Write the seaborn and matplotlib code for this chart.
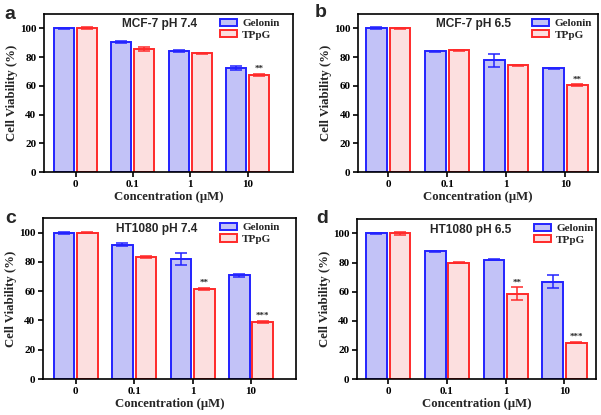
import numpy as np
import pandas as pd
import matplotlib
matplotlib.use("Agg")
import matplotlib.pyplot as plt
import seaborn as sns

# ---------------- data ----------------
conc = ["0", "0.1", "1", "10"]
groups = ["Gelonin", "TPpG"]

a_title = "MCF-7 pH 7.4"
a_gel = [100.0, 90.5, 84.4, 72.4]
a_gel_err = [0.5, 0.5, 0.7, 1.2]
a_tpg = [100.0, 85.6, 82.7, 67.5]
a_tpg_err = [0.8, 1.2, 0.3, 0.6]
a_sig = ["", "", "", "**"]

b_title = "MCF-7 pH 6.5"
b_gel = [100.0, 84.0, 77.6, 72.2]
b_gel_err = [0.6, 0.4, 4.2, 0.4]
b_tpg = [100.0, 84.6, 74.2, 60.3]
b_tpg_err = [0.4, 0.3, 0.5, 0.6]
b_sig = ["", "", "", "**"]

c_title = "HT1080 pH 7.4"
c_gel = [100.0, 91.7, 82.0, 70.8]
c_gel_err = [0.6, 1.0, 4.2, 0.8]
c_tpg = [100.0, 83.3, 61.6, 39.1]
c_tpg_err = [0.5, 0.5, 0.8, 0.6]
c_sig = ["", "", "**", "***"]

d_title = "HT1080 pH 6.5"
d_gel = [100.0, 87.8, 81.8, 66.8]
d_gel_err = [0.5, 0.4, 0.4, 4.4]
d_tpg = [100.0, 79.9, 58.6, 25.0]
d_tpg_err = [0.8, 0.4, 4.4, 0.6]
d_sig = ["", "", "**", "***"]

# ---------------- style ----------------
sns.set_style("ticks")
plt.rcParams["font.family"] = ["Liberation Serif", "DejaVu Serif"]
plt.rcParams["font.weight"] = "bold"

fill_b = "#c2c2f7"
edge_b = "#2323ff"
fill_r = "#fcdfdf"
edge_r = "#ff2a2a"

fig = plt.figure(figsize=(6.01, 4.15), dpi=100)

panels = [
    # letter, rect, xlim, title, gel, gel_err, tpg, tpg_err, sig, legend_x, title_x, title_y, letter_xy
    ("a", [0.0732, 0.5855, 0.414, 0.381], (-0.55, 3.79), a_title, a_gel, a_gel_err, a_tpg, a_tpg_err, a_sig,
     0.707, 0.466, 0.918, (0.008, 0.955)),
    ("b", [0.5957, 0.5855, 0.399, 0.381], (-0.51, 3.55), b_title, b_gel, b_gel_err, b_tpg, b_tpg_err, b_sig,
     0.726, 0.482, 0.918, (0.524, 0.958)),
    ("c", [0.0715, 0.0867, 0.421, 0.388], (-0.56, 3.77), c_title, c_gel, c_gel_err, c_tpg, c_tpg_err, c_sig,
     0.700, 0.45, 0.911, (0.008, 0.462)),
    ("d", [0.594, 0.0867, 0.398, 0.386], (-0.53, 3.54), d_title, d_gel, d_gel_err, d_tpg, d_tpg_err, d_sig,
     0.74, 0.477, 0.911, (0.527, 0.462)),
]

for (letter, rect, xlim, title, gel, gel_err, tpg, tpg_err, sig,
     leg_x, title_x, title_y, letter_xy) in panels:
    ax = fig.add_axes(rect)
    df = pd.DataFrame({
        "Concentration": conc * 2,
        "Group": [groups[0]] * len(conc) + [groups[1]] * len(conc),
        "Viability": list(gel) + list(tpg),
    })
    sns.barplot(data=df, x="Concentration", y="Viability", hue="Group",
                order=conc, hue_order=groups, palette=[fill_b, fill_r],
                width=0.8, gap=0.12, errorbar=None, saturation=1,
                linewidth=1.4, legend=False, ax=ax)
    for cont, ec, err, s_list in zip(ax.containers, [edge_b, edge_r],
                                     [gel_err, tpg_err], [None, sig]):
        xs, ys = [], []
        for p in cont.patches:
            p.set_edgecolor(ec)
            p.set_linewidth(1.4)
            xs.append(p.get_x() + p.get_width() / 2)
            ys.append(p.get_height())
        ax.errorbar(xs, ys, yerr=err, fmt="none", ecolor=ec, elinewidth=1.1,
                    capsize=4.2, capthick=1.1, zorder=5)
        if s_list is not None:
            for x, y, e, s in zip(xs, ys, err, s_list):
                if s:
                    ax.text(x, y + e + 0.6, s, ha="center", va="bottom",
                            fontsize=6.5, fontweight="bold",
                            family=["Liberation Serif"])
    ax.set_xlim(*xlim)
    ax.set_ylim(0, 110)
    ax.set_yticks([0, 20, 40, 60, 80, 100])
    ax.set_xlabel("Concentration (μM)", fontsize=9.2, fontweight="bold", labelpad=2.0)
    ax.set_ylabel("Cell Viability (%)", fontsize=9.2, fontweight="bold", labelpad=1.5)
    ax.tick_params(axis="both", labelsize=8, width=1.2, length=3.6, pad=1.8,
                   colors="black")
    for lab in ax.get_xticklabels() + ax.get_yticklabels():
        lab.set_fontweight("bold")
    for sp in ax.spines.values():
        sp.set_visible(True)
        sp.set_linewidth(1.2)
        sp.set_color("black")
    ax.text(title_x, title_y, title, transform=ax.transAxes, ha="center",
            va="baseline", fontsize=8.6, fontweight="bold",
            family=["Liberation Sans"])
    ax.legend(handles=list(ax.containers), labels=groups, loc="upper left",
              bbox_to_anchor=(leg_x, 0.97), frameon=False,
              borderpad=0.0, borderaxespad=0.0, handlelength=1.55,
              handleheight=0.65, handletextpad=0.45, labelspacing=0.15,
              prop={"family": "Liberation Serif", "weight": "bold", "size": 8.0})
    fig.text(letter_xy[0], letter_xy[1], letter, ha="left", va="baseline",
             fontsize=14, fontweight="bold", family=["Liberation Sans"])

fig.savefig("out.png", dpi=100)
